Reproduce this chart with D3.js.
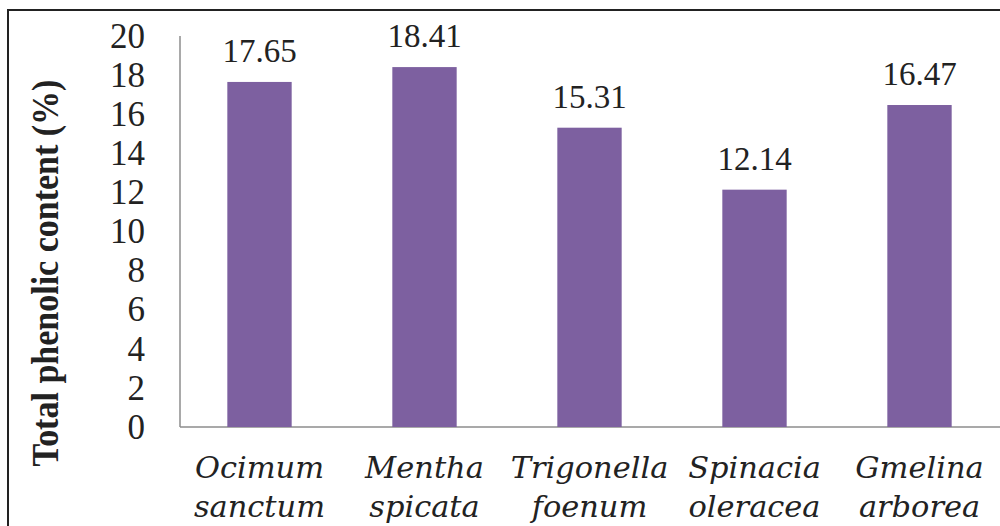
<!DOCTYPE html>
<html><head><meta charset="utf-8">
<script src="https://cdn.jsdelivr.net/npm/d3@7"></script>
<style>html,body{margin:0;padding:0;background:#fff;overflow:hidden}</style>
</head><body>
<svg id="c" width="1000" height="526"></svg>
<script>
const categories = [["Ocimum","sanctum"],["Mentha","spicata"],["Trigonella","foenum"],["Spinacia","oleracea"],["Gmelina","arborea"]];
const values = [17.65, 18.41, 15.31, 12.14, 16.47];
const yTicks = [0,2,4,6,8,10,12,14,16,18,20];
const yTitle = "Total phenolic content (%)";

(function(){
const svg = d3.select("#c");
svg.append("rect").attr("x",0).attr("y",0).attr("width",1000).attr("height",526).attr("fill","#fff");
svg.append("rect").attr("x",8).attr("y",10).attr("width",1010).attr("height",540)
  .attr("fill","none").attr("stroke","#222").attr("stroke-width",2);

const plotLeft = 180, plotBottom = 427, plotTop = 36;
const keys = categories.map(d => d.join(" "));
const x = d3.scaleBand().domain(keys).range([177, 1002]).paddingInner(0.61).paddingOuter(0.305);
const y = d3.scaleLinear().domain([0, 20]).range([plotBottom, plotTop]);

const ya = svg.append("g").attr("transform", `translate(${plotLeft},0)`)
  .call(d3.axisLeft(y).tickValues(yTicks).tickSize(0).tickPadding(35));
ya.select(".domain").remove();
ya.selectAll("text").attr("font-family","'Liberation Serif', serif").attr("font-size",35).attr("fill","#222");

svg.append("line").attr("x1",plotLeft).attr("x2",plotLeft).attr("y1",plotTop).attr("y2",plotBottom)
  .attr("stroke","#8c8c8c").attr("stroke-width",1.5);
svg.append("line").attr("x1",plotLeft).attr("x2",1010).attr("y1",plotBottom).attr("y2",plotBottom)
  .attr("stroke","#8c8c8c").attr("stroke-width",1.5);

svg.selectAll("rect.bar").data(values).enter().append("rect").attr("class","bar")
  .attr("x",(d,i)=>x(keys[i])).attr("width",x.bandwidth())
  .attr("y",d=>y(d)).attr("height",d=>plotBottom - y(d))
  .attr("fill","#7D60A0");

svg.selectAll("text.val").data(values).enter().append("text").attr("class","val")
  .attr("x",(d,i)=>x(keys[i]) + x.bandwidth()/2).attr("y",d=>y(d)-20)
  .attr("text-anchor","middle").attr("font-family","'Liberation Serif', serif")
  .attr("font-size",33).attr("fill","#222").text(d=>d.toFixed(2));

const cg = svg.selectAll("g.cat").data(categories).enter().append("g").attr("class","cat")
  .attr("transform",(d,i)=>`translate(${x(keys[i]) + x.bandwidth()/2},0) scale(1.05,1)`);
const cl = cg.append("text")
  .attr("text-anchor","middle").attr("font-family","'DejaVu Serif', serif")
  .attr("font-style","italic").attr("font-size",29).attr("fill","#222");
cl.each(function(d){
  const t = d3.select(this);
  t.append("tspan").attr("x",0).attr("y",478).text(d[0]);
  t.append("tspan").attr("x",0).attr("y",517).text(d[1]);
});

svg.append("text").attr("transform","translate(58,273) scale(1.1,1) rotate(-90)")
  .attr("text-anchor","middle").attr("font-family","'Liberation Serif', serif")
  .attr("font-weight","bold").attr("font-size",34).attr("fill","#222").text(yTitle);
})();
</script>
</body></html>
